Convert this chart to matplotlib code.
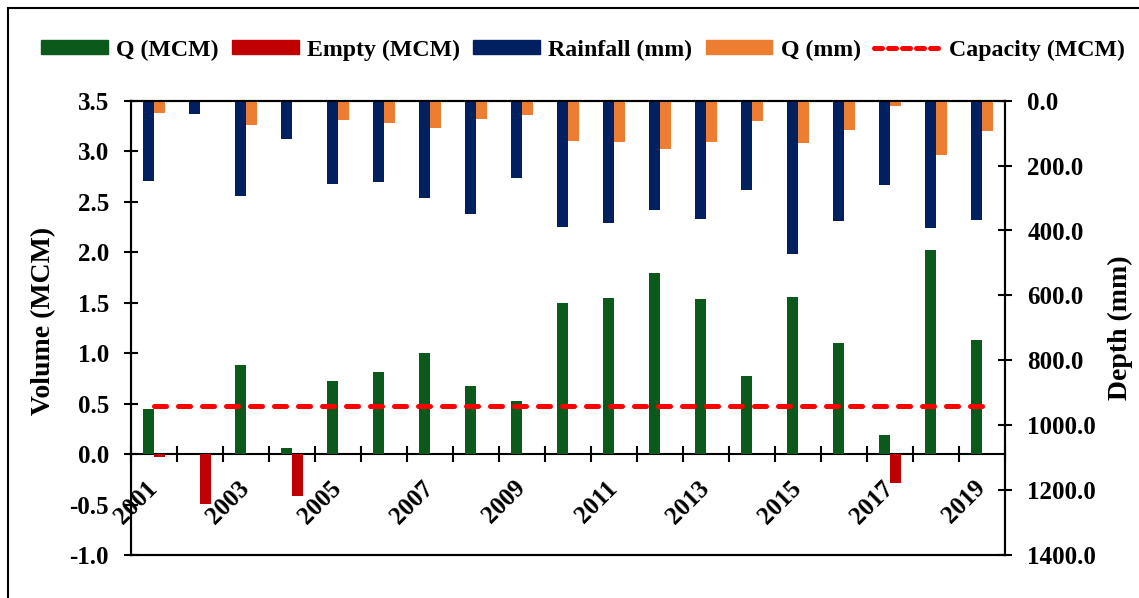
import matplotlib
matplotlib.use("Agg")
import matplotlib.pyplot as plt
import numpy as np
from matplotlib.patches import Patch, Rectangle
from matplotlib.lines import Line2D

plt.rcParams['font.family'] = ['Liberation Serif', 'DejaVu Serif']
plt.rcParams['font.weight'] = 'bold'

years = list(range(2001, 2020))
q_mcm = [0.45, 0.00, 0.88, 0.06, 0.72, 0.81, 1.00, 0.67, 0.53, 1.50,
         1.55, 1.79, 1.54, 0.77, 1.56, 1.10, 0.19, 2.02, 1.13]
empty_mcm = [-0.03, -0.49, 0.00, -0.42, 0.00, 0.00, 0.00, 0.00, 0.00, 0.00,
             0.00, 0.00, 0.00, 0.00, 0.00, 0.00, -0.29, 0.00, 0.00]
rainfall_mm = [247, 42, 293, 118, 257, 249, 301, 349, 237, 388,
               376, 337, 365, 275, 472, 371, 261, 393, 368]
q_mm = [38, 0, 74, 5, 61, 68, 84, 56, 44, 125,
        128, 149, 126, 64, 129, 91, 16, 167, 93]
capacity_mcm = 0.48

c_q = '#0B5A1B'
c_empty = '#C00000'
c_rain = '#002060'
c_qmm = '#ED7D31'
c_cap = '#FF0000'

FS_TICK = 18
FS_TITLE = 20
FS_LEG = 17.2
W, H = 1139, 598
fig = plt.figure(figsize=(W / 100, H / 100), dpi=100)

L, R, T, B = 131, 1005, 100.7, 555
ax = fig.add_axes([L / W, 1 - B / H, (R - L) / W, (B - T) / H])
ax2 = ax.twinx()

x = np.arange(len(years))
bw = 0.24

ax.bar(x - bw / 2, q_mcm, bw, color=c_q, zorder=3)
ax.bar(x + bw / 2, empty_mcm, bw, color=c_empty, zorder=3)
ax2.bar(x - bw / 2, rainfall_mm, bw, color=c_rain, zorder=3)
ax2.bar(x + bw / 2, q_mm, bw, color=c_qmm, zorder=3)

ax.set_zorder(ax2.get_zorder() + 1)
ax.patch.set_visible(False)
ax.plot(x, [capacity_mcm] * len(x), color=c_cap, lw=3.6,
        dashes=(2.4, 2.4), dash_capstyle='round', zorder=4)

ax.set_xlim(-0.5, len(years) - 0.5)
ax.set_ylim(-1.0, 3.5)
ax2.set_ylim(1400, 0)

# y axes
left_ticks = np.arange(-1.0, 3.51, 0.5)
right_ticks = np.arange(0, 1401, 200)
ax.set_yticks(left_ticks)
ax.set_yticklabels([f"{v:.1f}" for v in left_ticks])
ax2.set_yticks(right_ticks)
ax2.set_yticklabels([f"{v:.1f}" for v in right_ticks])
for a in (ax, ax2):
    a.tick_params(axis='y', direction='inout', length=10, width=1.5,
                  labelsize=FS_TICK, pad=11)
ax2.tick_params(axis='x', length=0)

# x axis drawn through zero, frame closed at the bottom
ax.spines['bottom'].set_position(('data', 0))
for sp in list(ax.spines.values()) + list(ax2.spines.values()):
    sp.set_linewidth(1.5)
ax.plot([0, 1], [0, 0], transform=ax.transAxes, color='k', lw=1.5,
        clip_on=False, zorder=5)

ax.set_xticks(x[::2])
ax.set_xticklabels([str(y) for y in years[::2]], rotation=45, ha='right',
                   va='center', rotation_mode='anchor', fontsize=FS_TICK)
ax.set_xticks(np.arange(-0.5, len(years), 1.0), minor=True)
ax.tick_params(axis='x', which='major', length=0, pad=22)
ax.tick_params(axis='x', which='minor', direction='inout', length=11, width=1.5)

ax.set_ylabel('Volume (MCM)', fontsize=FS_TITLE, fontweight='bold')
ax.yaxis.set_label_coords(-0.086, 0.515)
ax2.set_ylabel('Depth (mm)', fontsize=FS_TITLE, fontweight='bold')
ax2.yaxis.set_label_coords(1.118, 0.5)

handles = [
    Patch(color=c_q, label='Q (MCM)'),
    Patch(color=c_empty, label='Empty (MCM)'),
    Patch(color=c_rain, label='Rainfall (mm)'),
    Patch(color=c_qmm, label='Q (mm)'),
    Line2D([], [], color=c_cap, lw=3.6, dashes=(1.6, 1.2),
           dash_capstyle='round', label='Capacity (MCM)'),
]
fig.legend(handles=handles, loc='center', ncol=5,
           bbox_to_anchor=(583 / W, 1 - 50 / H), frameon=False,
           prop={'size': FS_LEG, 'weight': 'bold'}, handlelength=2.8,
           handleheight=0.5, handletextpad=0.35, columnspacing=0.55)

# chart-area border
fig.patches.append(Rectangle((8 / W, -0.2), 1.2, 1.2 - 8 / H,
                             transform=fig.transFigure, fill=False,
                             edgecolor='k', lw=1.5))

fig.savefig('out.png', dpi=100)
